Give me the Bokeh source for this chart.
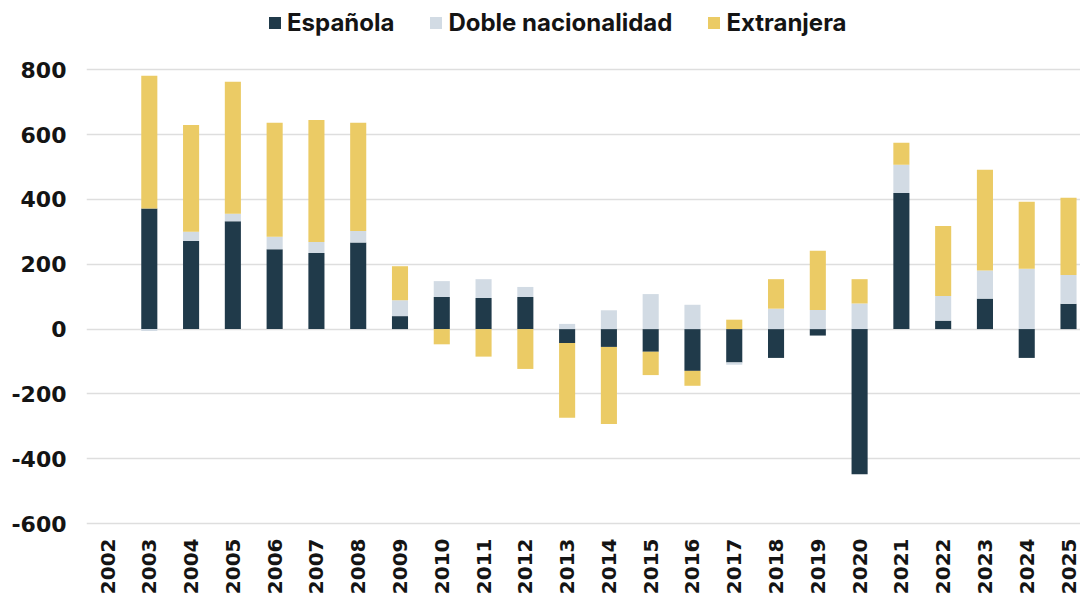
import numpy as np
from bokeh.plotting import figure
from bokeh.models import Range1d, FixedTicker, Legend, LegendItem, ColumnDataSource
from bokeh.embed import file_html
from bokeh.resources import INLINE

years = list(range(2002, 2026))
espanola = [0, 372, 272, 333, 246, 235, 267, 40, 99, 96, 99, -43, -55, -70, -129, -103, -89, -20, -448, 420, 26, 94, -89, 78]
doble = [0, -6, 28, 23, 39, 34, 36, 49, 49, 58, 31, 16, 58, 108, 75, -7, 63, 59, 79, 87, 76, 87, 186, 89]
extranjera = [0, 410, 330, 407, 352, 376, 334, 105, -47, -85, -123, -231, -238, -72, -46, 29, 91, 183, 75, 68, 216, 311, 207, 238]
series_names = ["Española", "Doble nacionalidad", "Extranjera"]
colors = ["#203A4A", "#D2DBE4", "#EBCB65"]
y_ticks = [-600, -400, -200, 0, 200, 400, 600, 800]
y_tick_labels = ["-600", "-400", "-200", "0", "200", "400", "600", "800"]

FONT = "DejaVu Sans"

p = figure(width=1080, height=597, output_backend="svg", toolbar_location=None,
           x_range=Range1d(2001.497, 2025.287), y_range=Range1d(-618.5, 1014),
           min_border_left=86, min_border_right=0, min_border_top=0, min_border_bottom=67)
p.outline_line_color = None
p.background_fill_color = "white"
p.border_fill_color = "white"

pos_cum = np.zeros(len(years))
neg_cum = np.zeros(len(years))
items = []
for name, vals, col in zip(series_names, [espanola, doble, extranjera], colors):
    v = np.array(vals, dtype=float)
    pv = np.clip(v, 0, None)
    nv = np.clip(v, None, 0)
    src_p = ColumnDataSource(dict(x=years, bottom=pos_cum.copy(), top=pos_cum + pv))
    src_n = ColumnDataSource(dict(x=years, bottom=neg_cum + nv, top=neg_cum.copy()))
    r1 = p.vbar(x="x", bottom="bottom", top="top", width=0.385, source=src_p,
                fill_color=col, line_color=None)
    p.vbar(x="x", bottom="bottom", top="top", width=0.385, source=src_n,
           fill_color=col, line_color=None)
    pos_cum = pos_cum + pv
    neg_cum = neg_cum + nv
    items.append(LegendItem(label=name, renderers=[r1]))

legend = Legend(items=items, location=(181, 492), orientation="horizontal",
                glyph_width=15, glyph_height=15, label_standoff=5, spacing=34,
                label_text_font="Inter", label_text_font_style="bold",
                label_text_font_size="24px", label_text_color="#141414",
                border_line_color=None, background_fill_alpha=0, padding=0, margin=0)
p.add_layout(legend, "center")

p.xaxis.ticker = FixedTicker(ticks=years)
p.xaxis.major_label_overrides = {y: str(y) for y in years}
p.xaxis.major_label_orientation = np.pi / 2
p.xaxis.major_label_text_font = FONT
p.xaxis.major_label_text_font_style = "bold"
p.xaxis.major_label_text_font_size = "20px"
p.xaxis.major_label_text_color = "#141414"
p.xaxis.major_label_standoff = 9
p.xaxis.axis_line_color = None
p.xaxis.major_tick_line_color = None
p.xaxis.minor_tick_line_color = None
p.xaxis.major_tick_out = 0
p.xaxis.major_tick_in = 0

p.yaxis.ticker = FixedTicker(ticks=y_ticks)
p.yaxis.major_label_overrides = dict(zip(y_ticks, y_tick_labels))
p.yaxis.major_label_text_font = FONT
p.yaxis.major_label_text_font_style = "bold"
p.yaxis.major_label_text_font_size = "22px"
p.yaxis.major_label_text_color = "#141414"
p.yaxis.major_label_standoff = 20
p.yaxis.axis_line_color = None
p.yaxis.major_tick_line_color = None
p.yaxis.minor_tick_line_color = None
p.yaxis.major_tick_out = 0
p.yaxis.major_tick_in = 0

p.xgrid.grid_line_color = None
p.ygrid.ticker = FixedTicker(ticks=y_ticks)
p.ygrid.grid_line_color = "#DEDEDE"
p.ygrid.grid_line_width = 1.5

open("out.html", "w").write(file_html(p, INLINE))
